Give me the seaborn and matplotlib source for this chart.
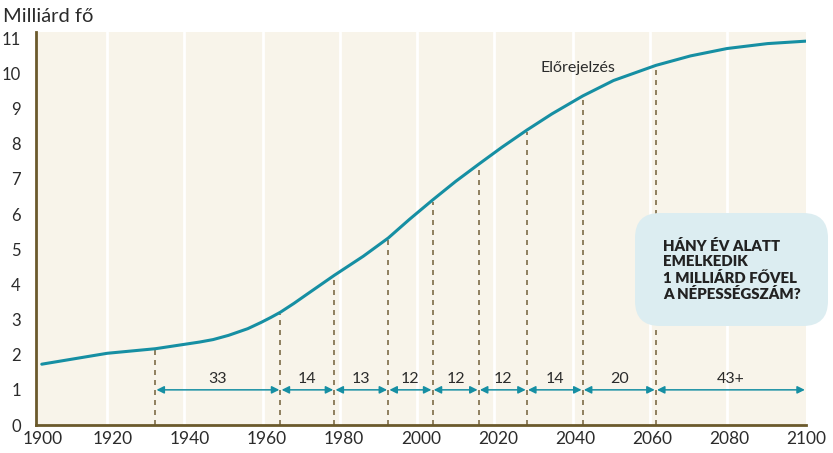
import numpy as np
import pandas as pd
import matplotlib
matplotlib.use("Agg")
import matplotlib.pyplot as plt
import matplotlib.transforms as mtransforms
import seaborn as sns
from matplotlib.patches import FancyBboxPatch

# population curve (billion people)
years = [1901.5, 1918.5, 1931, 1942.5, 1946, 1950, 1955, 1958.5, 1961, 1963.5,
         1967, 1970, 1977.5, 1985, 1991.5, 1997, 2003, 2009, 2015, 2021,
         2027.5, 2034, 2042, 2050, 2061, 2070, 2079.5, 2090, 2100]
population = [1.73, 2.04, 2.17, 2.36, 2.43, 2.55, 2.74, 2.92, 3.06, 3.21,
              3.46, 3.69, 4.26, 4.80, 5.32, 5.85, 6.40, 6.93, 7.42, 7.90,
              8.39, 8.85, 9.36, 9.80, 10.23, 10.50, 10.71, 10.85, 10.92]

# marks where another billion was reached, and the span lengths
milestones = [1931, 1963.5, 1977.5, 1991.5, 2003, 2015, 2027.5, 2042, 2061, 2100]
spans = ["33", "14", "13", "12", "12", "12", "14", "20", "43+"]

x_ticks = [1900, 1920, 1940, 1960, 1980, 2000, 2020, 2040, 2060, 2080, 2100]
y_ticks = list(range(0, 12))
grid_years = [1918.5, 1938.5, 1959, 1979, 1999, 2019, 2039.5, 2059.5, 2079.5]

teal = "#168fa3"
olive = "#6b5a2c"
dash_col = "#7d6c47"
text_col = "#2b2b2b"

sns.set_theme(style="white")
plt.rcParams["font.family"] = ["Lato", "DejaVu Sans"]

df = pd.DataFrame({"year": years, "pop": population})

fig = plt.figure(figsize=(8.33, 4.53), dpi=100)
ax = fig.add_axes([36 / 833, 28 / 453, 770 / 833, 393 / 453])
ax.set_facecolor("#f8f4ea")

for g in grid_years:
    ax.axvline(g, color="white", lw=2, zorder=1)

sns.lineplot(data=df, x="year", y="pop", color=teal, lw=2.2, ax=ax, zorder=4)

# dashed drop lines up to the curve
for m in milestones[:-1]:
    top = np.interp(m, years, population)
    ax.plot([m, m], [0, top - 0.05], ls=(0, (3, 3)), color=dash_col, lw=1.2, zorder=2)

# arrows with year counts
for a, b, lab in zip(milestones[:-1], milestones[1:], spans):
    ax.annotate("", xy=(b - 0.3, 1), xytext=(a + 0.3, 1),
                arrowprops=dict(arrowstyle="<|-|>", color=teal, lw=1.1,
                                mutation_scale=11, shrinkA=0, shrinkB=0), zorder=3)
    ax.text((a + b) / 2, 1.1, lab, ha="center", va="bottom", fontsize=11.5, color=text_col)

ax.text(2040.8, 9.95, "Előrejelzés", ha="center", va="bottom", fontsize=11.5, color=text_col)

ax.set_xlim(1900, 2100)
ax.set_ylim(0, 11.18)
ax.set_xticks(x_ticks)
ax.set_yticks(y_ticks)
ax.set_xlabel("")
ax.set_ylabel("")
ax.tick_params(axis="x", length=0, pad=4, labelsize=12.5, colors=text_col)
ax.tick_params(axis="y", length=0, pad=11, labelsize=12, colors=text_col)

# first year label sits a little to the right in the original
fig.canvas.draw()
first = ax.get_xticklabels()[0]
first.set_transform(first.get_transform() +
                    mtransforms.ScaledTranslation(7 / 100, 0, fig.dpi_scale_trans))

for s in ["top", "right"]:
    ax.spines[s].set_visible(False)
for s in ["left", "bottom"]:
    ax.spines[s].set_color(olive)
    ax.spines[s].set_linewidth(2)

fig.text(3 / 833, 1 - 17 / 453, "Milliárd fő", ha="left", va="center", fontsize=14.5, color=text_col)

# question box
box = FancyBboxPatch((635 / 833, 1 - 326 / 453), 193 / 833, 113 / 453,
                     boxstyle="round,pad=0,rounding_size=0.03",
                     transform=fig.transFigure, facecolor="#dcedf1", edgecolor="none",
                     mutation_aspect=833 / 453, zorder=5)
fig.patches.append(box)
fig.text(663 / 833, 1 - 270 / 453,
         "HÁNY ÉV ALATT\nEMELKEDIK\n1 MILLIÁRD FŐVEL\nA NÉPESSÉGSZÁM?",
         ha="left", va="center", fontsize=10.8, fontweight="heavy", color="#222222",
         linespacing=1.2, zorder=6)

fig.savefig("out.png", dpi=100)
